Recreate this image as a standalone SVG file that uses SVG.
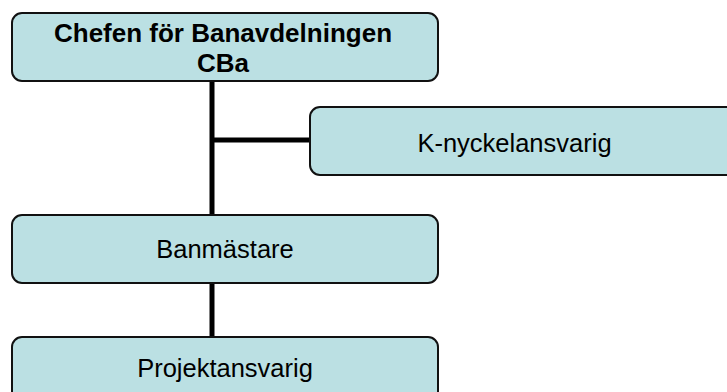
<svg xmlns="http://www.w3.org/2000/svg" width="727" height="392" viewBox="0 0 727 392">
<style>
.box{fill:#BBE0E3;stroke:#111;stroke-width:2}
.t{font-family:"Liberation Sans",Arial,sans-serif;font-size:25.5px;fill:#000;text-anchor:middle}
.b{font-weight:bold;font-size:26px}
.c{stroke:#000;stroke-width:5;fill:none}
</style>
<rect width="727" height="392" fill="#fff"/>
<g id="connectors">
<line class="c" x1="212" y1="80" x2="212" y2="216"/>
<line class="c" x1="212" y1="140" x2="311" y2="140"/>
<line class="c" x1="212" y1="283" x2="212" y2="338"/>
</g>
<g id="chef">
<rect class="box" x="12" y="13" width="426" height="68" rx="10"/>
<text class="t b" x="223" y="42">Chefen för Banavdelningen</text>
<text class="t b" x="223" y="72">CBa</text>
</g>
<g id="k-nyckel">
<rect class="box" x="310" y="107" width="440" height="68" rx="10"/>
<text class="t" x="514.5" y="152">K-nyckelansvarig</text>
</g>
<g id="banmastare">
<rect class="box" x="12" y="215" width="426" height="68" rx="10"/>
<text class="t" x="225" y="258">Banmästare</text>
</g>
<g id="projekt">
<rect class="box" x="12" y="337" width="426" height="68" rx="10"/>
<text class="t" x="225" y="377">Projektansvarig</text>
</g>
</svg>
